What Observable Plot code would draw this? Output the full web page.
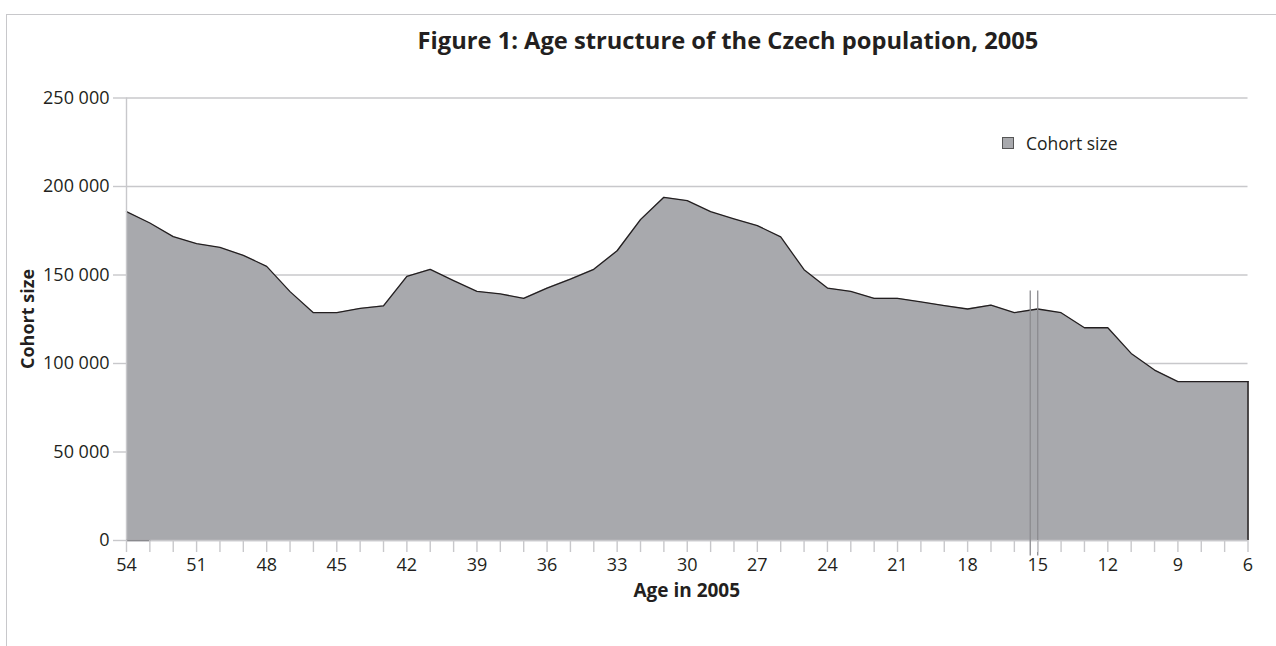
<!DOCTYPE html>
<html>
<head>
<meta charset="utf-8">
<script src="https://cdn.jsdelivr.net/npm/d3@7"></script>
<script src="https://cdn.jsdelivr.net/npm/@observablehq/plot@0.6"></script>
<style>
  html, body { margin: 0; padding: 0; background: #fff; }
  #wrap { position: relative; width: 1276px; height: 646px; overflow: hidden; font-family: "Open Sans", sans-serif; color: #231f20; }
  #frameTop { position: absolute; left: 6px; top: 14px; width: 1270px; height: 0; border-top: 1.5px solid #c8c8cb; }
  #frameLeft { position: absolute; left: 6px; top: 14px; width: 0; height: 640px; border-left: 1.5px solid #c8c8cb; }
  #title { position: absolute; left: 728px; top: 29px; transform: translateX(-50%); white-space: nowrap; font-weight: 700; font-size: 23.7px; line-height: 23.7px; }
  #plot { position: absolute; left: 0; top: 0; }
  #ylabel { position: absolute; left: 27px; top: 318.75px; transform: translate(-50%, -50%) rotate(-90deg); white-space: nowrap; font-weight: 700; font-size: 18px; line-height: 18px; }
  #xlabel { position: absolute; left: 126px; width: 1121.5px; top: 580.8px; text-align: center; font-weight: 700; font-size: 19px; line-height: 19px; }
  #legend { position: absolute; left: 1002px; top: 133px; display: flex; align-items: center; font-size: 17.5px; line-height: 20px; white-space: nowrap; }
  #legend .sw { width: 10px; height: 10px; background: #a8a9ad; border: 1px solid #555; margin-right: 12px; }
</style>
</head>
<body>
<div id="wrap">
  <div id="frameTop"></div>
  <div id="frameLeft"></div>
  <div id="title">Figure 1: Age structure of the Czech population, 2005</div>
  <div id="plot"></div>
  <div id="ylabel">Cohort size</div>
  <div id="xlabel">Age in 2005</div>
  <div id="legend"><div class="sw"></div><span>Cohort size</span></div>
</div>
<script>
// Data
const ages = [54,53,52,51,50,49,48,47,46,45,44,43,42,41,40,39,38,37,36,35,34,33,32,31,30,29,28,27,26,25,24,23,22,21,20,19,18,17,16,15,14,13,12,11,10,9,8,7,6];
const cohortSize = [185800,179400,171700,167700,165600,161100,154900,140600,128700,128700,
                    131100,132600,149200,153200,146800,140700,139300,136800,142600,147700,
                    153200,163700,181300,193900,192000,185800,181700,177900,171500,153000,
                    142600,140700,136800,136800,134800,132700,130800,133000,128700,130800,
                    128700,120200,120200,105700,96300,89800,89800,89800,89800];
const xTickLabels = [54,51,48,45,42,39,36,33,30,27,24,21,18,15,12,9,6];
const yTicks = [0,50000,100000,150000,200000,250000];
const markerAges = [15.32, 15];
const markerTop = 141000;
const markerBottom = -8800;
const zeroSegmentAges = [54, 53];
const zeroSegmentValues = [0, 0];

const data = ages.map((a, i) => ({age: a, value: cohortSize[i]}));
const zeroSeg = zeroSegmentAges.map((a, i) => ({age: a, value: zeroSegmentValues[i]}));
const lastPoint = data.filter(d => d.age === ages[ages.length - 1]);
const gridColor = "#c8c8cb";
const ink = "#231f20";
const fmt = d => d3.format(",")(d).replace(/,/g, " ");

const chart = Plot.plot({
  width: 1276,
  height: 646,
  marginLeft: 126,
  marginRight: 28.5,
  marginTop: 97.5,
  marginBottom: 106,
  x: {type: "linear", domain: [54, 6]},
  y: {type: "linear", domain: [0, 250000]},
  style: {fontFamily: "Open Sans", fontSize: "18px", color: ink, background: "transparent", overflow: "visible"},
  marks: [
    Plot.ruleY(yTicks, {stroke: gridColor, strokeWidth: 1.4}),
    Plot.areaY(data, {x: "age", y: "value", fill: "#a8a9ad"}),
    Plot.lineY(data, {x: "age", y: "value", stroke: ink, strokeWidth: 1.3}),
    Plot.ruleX(lastPoint, {x: "age", y1: 0, y2: "value", stroke: ink, strokeWidth: 1.6}),
    Plot.ruleX([ages[0]], {y1: 0, y2: yTicks[yTicks.length - 1], stroke: gridColor, strokeWidth: 1.4}),
    Plot.ruleY([0], {stroke: gridColor, strokeWidth: 1.4}),
    Plot.lineY(zeroSeg, {x: "age", y: "value", stroke: "#8a8a8e", strokeWidth: 1.6}),
    Plot.ruleX(markerAges, {x: d => d, y1: markerBottom, y2: markerTop, stroke: "#8c8c8f", strokeWidth: 1.3}),
    Plot.axisY({ticks: yTicks, tickSize: 13, tickPadding: 4, tickFormat: fmt, label: null, stroke: gridColor, strokeWidth: 1.4, fill: ink, fontSize: 18}),
    Plot.axisX({ticks: ages, tickSize: 12, tickPadding: 6, tickFormat: d => xTickLabels.includes(d) ? String(d) : "", label: null, stroke: gridColor, strokeWidth: 1.4, fill: ink, fontSize: 18})
  ]
});
document.getElementById("plot").appendChild(chart);
</script>
</body>
</html>
